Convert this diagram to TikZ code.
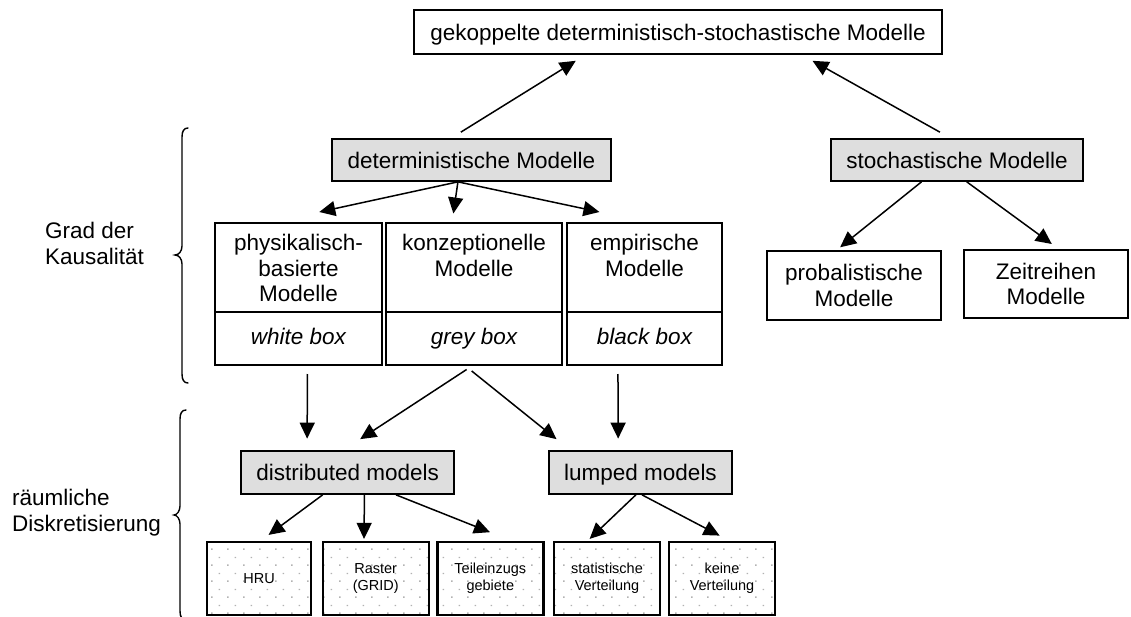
\documentclass[tikz,border=0pt]{standalone}
\usepackage{fontspec}
\setmainfont{Liberation Sans}
\usetikzlibrary{arrows.meta,calc,patterns.meta}

\tikzdeclarepattern{
  name=sparsedots,
  type=uncolored,
  bounding box={(0pt,0pt) and (16pt,16pt)},
  tile size={(16pt,16pt)},
  code={
    \pgfpathrectangle{\pgfpoint{3.3pt}{3.3pt}}{\pgfpoint{1.5pt}{1.5pt}}
    \pgfpathrectangle{\pgfpoint{11.3pt}{11.3pt}}{\pgfpoint{1.5pt}{1.5pt}}
    \pgfusepath{fill}
  }
}

\tikzset{
  bigtext/.style={font=\fontsize{22.5}{25.5}\selectfont},
  smalltext/.style={font=\fontsize{14.5}{16.7}\selectfont},
  topbox/.style={draw, line width=1.6pt, bigtext, inner sep=0pt, text depth=0pt},
  greybox/.style={draw, fill=black!13, line width=1.7pt, bigtext, inner sep=0pt, text depth=0pt, minimum height=42pt},
  tribox/.style={draw, line width=2pt, inner sep=0pt, minimum height=142pt},
  tritext/.style={bigtext, align=center, anchor=north, inner sep=0pt},
  italtext/.style={font=\fontsize{22.5}{25.5}\selectfont\itshape, anchor=base, inner sep=0pt},
  sidebox/.style={draw, line width=2pt, bigtext, align=center, inner sep=0pt, text depth=0pt},
  dotbox/.style={draw, line width=2.4pt, smalltext, align=center, inner sep=0pt,
    pattern=sparsedots, pattern color=black!30, minimum width=106pt, minimum height=73pt},
  sidelabel/.style={bigtext, align=left, anchor=north west, inner sep=0pt},
  arr/.style={line width=1.5pt, -{Triangle[length=16pt,width=15pt]}},
  brace/.style={line width=1.4pt, line cap=round}
}

\begin{document}
\begin{tikzpicture}[x=1pt,y=-1pt]
\useasboundingbox (0,0) rectangle (1131,617);

% top level
\node[topbox, minimum width=528pt, minimum height=44pt] (top) at (678,32) {gekoppelte deterministisch-stochastische Modelle};
\node[greybox, minimum width=279pt] (det) at (471.5,160) {deterministische Modelle};
\node[greybox, minimum width=252pt] (sto) at (957,160) {stochastische Modelle};

% three model boxes
\node[tribox, minimum width=167pt] (phys) at (298.5,294) {};
\node[tribox, minimum width=176pt] (konz) at (474,294) {};
\node[tribox, minimum width=155pt] (emp) at (644.5,294) {};
\foreach \b in {phys,konz,emp}
  \draw[line width=2pt] ($(\b.north west)+(0,90)$) -- ($(\b.north east)+(0,90)$);
\node[tritext] (physT) at ($(phys.north)+(0,12)$) {physikalisch-\\basierte\\Modelle};
\node[tritext] (konzT) at ($(konz.north)+(0,12)$) {konzeptionelle\\Modelle};
\node[tritext] (empT) at ($(emp.north)+(0,12)$) {empirische\\Modelle};
\node[italtext] (physB) at ($(phys.south)+(0,-22)$) {white box};
\node[italtext] (konzB) at ($(konz.south)+(0,-22)$) {grey box};
\node[italtext] (empB) at ($(emp.south)+(0,-22)$) {black box};

% stochastic children
\node[sidebox, minimum width=174pt, minimum height=69pt] (prob) at (854,285.5) {probalistische\\Modelle};
\node[sidebox, minimum width=164pt, minimum height=68pt] (zeit) at (1046,284) {Zeitreihen\\Modelle};

% spatial
\node[greybox, minimum width=213pt, minimum height=43pt] (dist) at (347.7,472.5) {distributed models};
\node[greybox, minimum width=183pt, minimum height=43pt] (lump) at (640.5,472.5) {lumped models};

\node[dotbox, minimum width=104pt] (hru) at (259.2,578.3) {HRU};
\node[dotbox] (raster) at (375.7,578.3) {Raster\\(GRID)};
\node[dotbox] (teil) at (490.3,578.3) {Teileinzugs\\gebiete};
\node[dotbox] (stat) at (607,578.3) {statistische\\Verteilung};
\node[dotbox] (keine) at (722,578.3) {keine\\Verteilung};

% side labels
\node[sidelabel] (kaus) at (45,222) {Grad der\\Kausalität};
\node[sidelabel] (disk) at (12,489) {räumliche\\Diskretisierung};

% braces
\draw[brace] (188,128) .. controls (184,128) and (182,131) .. (182,137) -- (182,246)
  .. controls (182,251) and (179,255) .. (175,255)
  .. controls (179,255) and (182,259) .. (182,264) -- (182,374)
  .. controls (182,380) and (184,383) .. (188,383);
\draw[brace] (186,410) .. controls (182,410) and (180,413) .. (180,419) -- (180,506)
  .. controls (180,511) and (177,515) .. (174,515)
  .. controls (177,515) and (180,519) .. (180,524) -- (180,611)
  .. controls (180,617) and (182,620) .. (186,620);

% connectors
\draw[arr] ($(det.north west)!0.462!(det.north east)+(0,-6)$) -- ($(top.south west)!0.307!(top.south east)+(0,6)$);
\draw[arr] ($(sto.north west)!0.4325!(sto.north east)+(0,-6)$) -- ($(top.south west)!0.754!(top.south east)+(0,6)$);

\draw[arr] ($(det.south west)!0.4516!(det.south east)$) -- ($(phys.north west)!0.623!(phys.north east)+(0,-10)$);
\draw[arr] ($(det.south west)!0.4516!(det.south east)$) -- ($(konz.north west)!0.384!(konz.north east)+(0,-8.5)$);
\draw[arr] ($(det.south west)!0.4516!(det.south east)$) -- ($(emp.north west)!0.213!(emp.north east)+(0,-10)$);

\draw[arr] ($(sto.south west)!0.36!(sto.south east)$) -- ($(prob.north west)!0.421!(prob.north east)+(0,-2.7)$);
\draw[arr] ($(sto.south west)!0.5385!(sto.south east)$) -- ($(zeit.north west)!0.535!(zeit.north east)+(0,-5)$);

\draw[arr] ($(phys.south west)!0.553!(phys.south east)+(0,8)$) -- ($(dist.north west)!0.311!(dist.north east)+(0,-11.5)$);
\draw[arr] ($(konz.south west)!0.4585!(konz.south east)+(0,3.5)$) -- ($(dist.north west)!0.558!(dist.north east)+(0,-11)$);
\draw[arr] ($(konz.south west)!0.487!(konz.south east)+(0,5)$) -- ($(lump.north west)!0.045!(lump.north east)+(0,-11)$);
\draw[arr] ($(emp.south west)!0.331!(emp.south east)+(0,8)$) -- ($(lump.north west)!0.379!(lump.north east)+(0,-11.5)$);

\draw[arr] ($(dist.south west)!0.3835!(dist.south east)$) -- ($(hru.north west)!0.588!(hru.north east)+(0,-5.7)$);
\draw[arr] ($(dist.south west)!0.578!(dist.south east)$) -- ($(raster.north west)!0.392!(raster.north east)+(0,-1.7)$);
\draw[arr] ($(dist.south west)!0.725!(dist.south east)$) -- ($(teil.north west)!0.497!(teil.north east)+(0,-8.4)$);

\draw[arr] ($(lump.south west)!0.475!(lump.south east)$) -- ($(stat.north west)!0.34!(stat.north east)+(0,-1.7)$);
\draw[arr] ($(lump.south west)!0.508!(lump.south east)$) -- ($(keine.north west)!0.478!(keine.north east)+(0,-5)$);
\end{tikzpicture}
\end{document}
